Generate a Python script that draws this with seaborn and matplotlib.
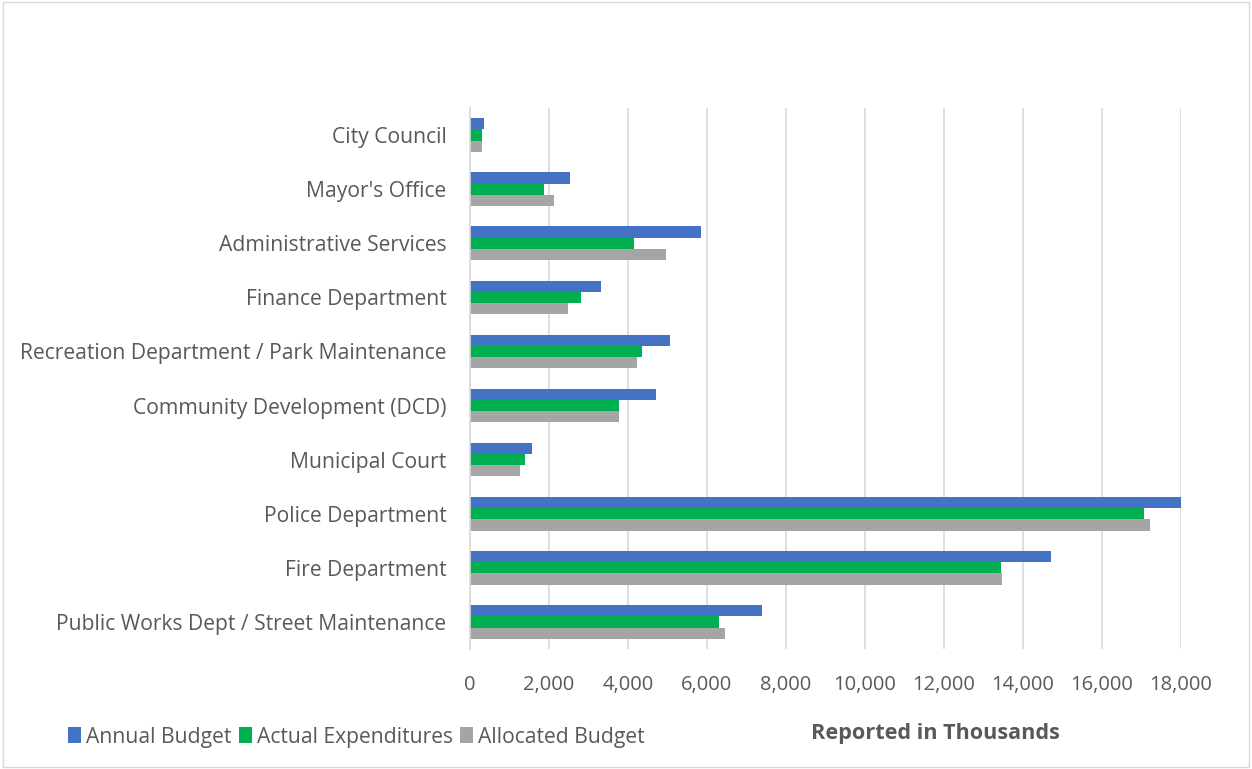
import matplotlib
matplotlib.use("Agg")
import matplotlib.pyplot as plt
import seaborn as sns
import pandas as pd
from matplotlib.patches import Rectangle, Patch
from matplotlib.ticker import FuncFormatter

departments = [
    "City Council",
    "Mayor's Office",
    "Administrative Services",
    "Finance Department",
    "Recreation Department / Park Maintenance",
    "Community Development (DCD)",
    "Municipal Court",
    "Police Department",
    "Fire Department",
    "Public Works Dept / Street Maintenance",
]
annual_budget = [360, 2540, 5840, 3320, 5065, 4700, 1575, 18000, 14720, 7400]
actual_expenditures = [295, 1865, 4140, 2805, 4355, 3765, 1390, 17075, 13435, 6300]
allocated_budget = [295, 2115, 4965, 2485, 4225, 3775, 1275, 17220, 13460, 6460]
series_names = ["Annual Budget", "Actual Expenditures", "Allocated Budget"]
colors = ["#4472C4", "#00B050", "#A5A5A5"]
x_ticks = [0, 2000, 4000, 6000, 8000, 10000, 12000, 14000, 16000, 18000]

rows = []
for name, vals in zip(series_names, [annual_budget, actual_expenditures, allocated_budget]):
    for d, v in zip(departments, vals):
        rows.append({"Department": d, "Series": name, "Value": v})
df = pd.DataFrame(rows)

sns.set_theme(style="white")
plt.rcParams["font.family"] = ["Open Sans", "DejaVu Sans"]
text_color = "#595959"

fig = plt.figure(figsize=(12.52, 7.69), dpi=100)
ax = fig.add_axes([470 / 1252, 1 - 649 / 769, (1181 - 470) / 1252, (649 - 108) / 769])

sns.barplot(data=df, y="Department", x="Value", hue="Series", order=departments,
            hue_order=series_names, palette=colors, orient="h", width=0.62,
            ax=ax, legend=False, saturation=1, edgecolor="none", linewidth=0)

ax.set_xlim(0, 18000)
ax.set_xticks(x_ticks)
ax.xaxis.set_major_formatter(FuncFormatter(lambda v, p: f"{int(v):,}"))
ax.grid(axis="x", color="#d9d9d9", linewidth=1.2)
ax.set_axisbelow(True)
for s in ["top", "right", "bottom"]:
    ax.spines[s].set_visible(False)
ax.spines["left"].set_color("#d9d9d9")
ax.spines["left"].set_linewidth(1.2)
ax.tick_params(axis="both", length=0, colors=text_color)
ax.tick_params(axis="y", pad=17, labelsize=15.2)
ax.tick_params(axis="x", pad=19, labelsize=14.5)
ax.set_xlabel("")
ax.set_ylabel("")

handles = [Patch(facecolor=c, edgecolor="none") for c in colors]
fig.legend(handles, series_names, loc="center left", bbox_to_anchor=(60 / 1252, 1 - 737 / 769),
           ncol=3, frameon=False, fontsize=15.2, handlelength=0.6, handleheight=0.8,
           handletextpad=0.25, columnspacing=0.35, labelcolor=text_color, borderaxespad=0)

fig.text(935 / 1252, 1 - 733 / 769, "Reported in Thousands", ha="center", va="center",
         fontsize=15.6, fontweight="bold", color=text_color)

fig.patches.append(Rectangle((0.002, 0.002), 0.996, 0.996, transform=fig.transFigure,
                             fill=False, edgecolor="#d9d9d9", linewidth=1))

fig.savefig("out.png", dpi=100)
